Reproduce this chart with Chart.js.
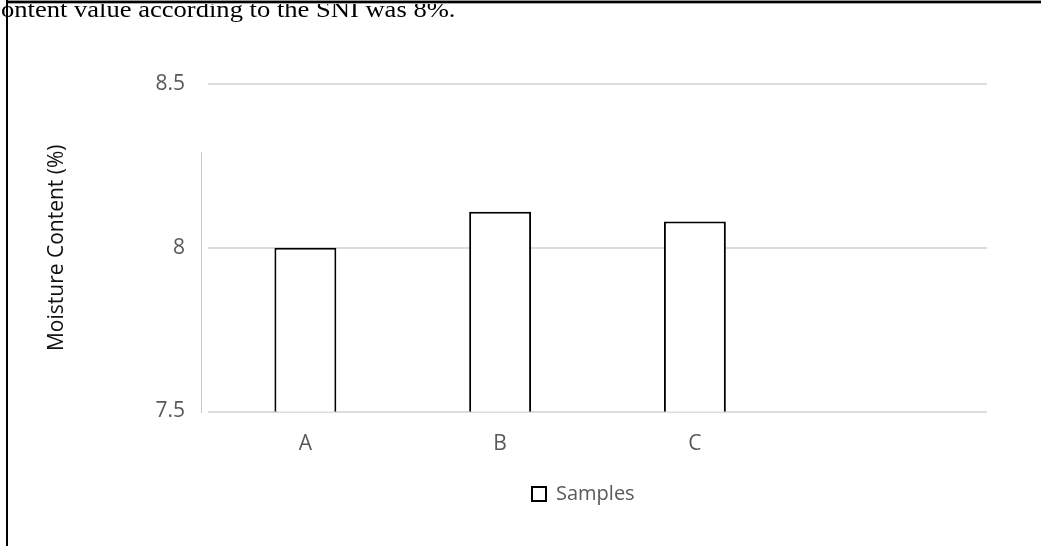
<!DOCTYPE html>
<html>
<head>
<meta charset="utf-8">
<script src="https://cdn.jsdelivr.net/npm/chart.js@4/dist/chart.umd.min.js"></script>
<style>
  html, body { margin: 0; padding: 0; background: #fff; }
  #wrap { position: relative; width: 1041px; height: 546px; overflow: hidden; }
  #chartBox { position: absolute; left: 0; top: 0; width: 1041px; height: 546px; }
  .caption {
    position: absolute; left: 1px; top: -2px; white-space: nowrap;
    font-family: "Liberation Serif", "Times New Roman", serif;
    font-size: 23px; line-height: 23px; color: #000;
    transform: scaleX(1.155); transform-origin: 0 0;
  }
  .frame-left { position: absolute; left: 6px; top: 0; width: 2px; height: 546px; background: #000; }
  .frame-top { position: absolute; left: 6px; top: 1px; width: 1035px; height: 2px; background: #000;
               box-shadow: 0 -1px 0 #999, 0 1px 0 #aaa; }
  .axis-stub { position: absolute; left: 201px; top: 152px; width: 1px; height: 261px; background: #c8c8c8; }
</style>
</head>
<body>
<div id="wrap">
  <div id="chartBox"><canvas id="chart"></canvas></div>
  <div class="caption">ontent value according to the SNI was 8%.</div>
  <div class="frame-top"></div>
  <div class="frame-left"></div>
  <div class="axis-stub"></div>
</div>
<script>
// Moisture content of each sample (%)
const categories = ['A', 'B', 'C', ''];
const moisture = [8.00, 8.11, 8.08, null];
const seriesName = 'Samples';
const yTicks = [7.5, 8, 8.5];

const tickColor = '#595959';
const uiFont = '"Open Sans", "Liberation Sans", sans-serif';

// Places the legend item so its marker starts at a fixed x position
const legendPlacer = {
  id: 'legendPlacer',
  beforeDraw(chart) {
    const lg = chart.legend;
    if (!lg || !lg.lineWidths) return;
    const itemW = lg.lineWidths[0] - lg.options.labels.padding;
    const half = (lg.right - lg.left) / 2;
    const center = 532 + itemW / 2;
    lg.left = center - half;
    lg.right = center + half;
  }
};

new Chart(document.getElementById('chart'), {
  type: 'bar',
  data: {
    labels: categories,
    datasets: [{
      label: seriesName,
      data: moisture,
      backgroundColor: '#ffffff',
      borderColor: '#000000',
      borderWidth: 2,
      borderSkipped: 'start',
      barPercentage: 0.318,
      categoryPercentage: 1
    }]
  },
  options: {
    responsive: true,
    maintainAspectRatio: false,
    animation: false,
    layout: { padding: { left: 0, right: 54, top: 84, bottom: 32 } },
    scales: {
      x: {
        grid: { display: false, drawTicks: false },
        border: { display: false },
        ticks: { color: tickColor, font: { family: uiFont, size: 21 }, padding: 20 },
        afterFit(scale) { scale.height = 58; }
      },
      y: {
        min: 7.5,
        max: 8.5,
        afterBuildTicks(scale) { scale.ticks = yTicks.map(v => ({ value: v })); },
        grid: { color: '#dcdcdc', lineWidth: 2, drawTicks: false },
        border: { display: false },
        ticks: {
          color: tickColor,
          font: { family: uiFont, size: 21 },
          padding: 23,
          callback: v => String(v)
        },
        title: {
          display: true,
          text: 'Moisture Content (%)',
          color: '#111111',
          font: { family: uiFont, size: 21 },
          padding: { top: 44, bottom: 0 }
        },
        afterFit(scale) { scale.width = 208; }
      }
    },
    plugins: {
      legend: {
        position: 'bottom',
        labels: {
          color: tickColor,
          font: { family: uiFont, size: 20 },
          boxWidth: 14,
          boxHeight: 14,
          padding: 14.5
        }
      },
      tooltip: { enabled: false }
    }
  },
  plugins: [legendPlacer]
});
</script>
</body>
</html>
